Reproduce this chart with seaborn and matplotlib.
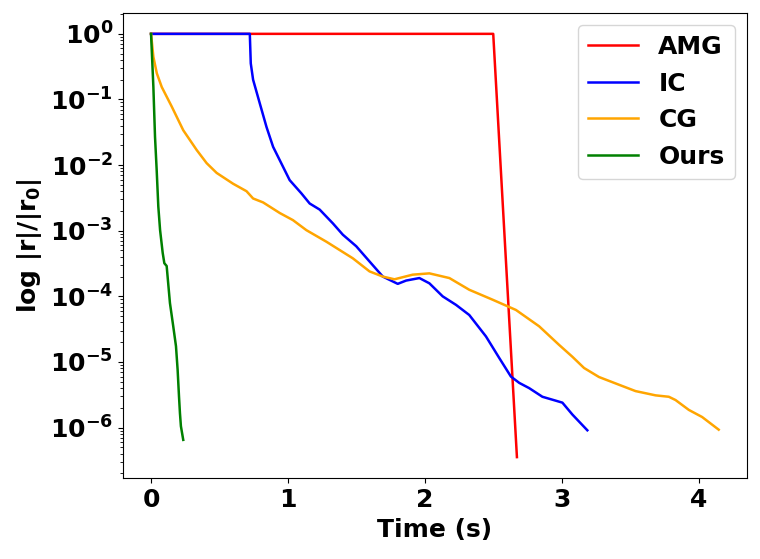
import matplotlib
matplotlib.use("Agg")
import matplotlib.pyplot as plt
import seaborn as sns

# residual curves
amg_t = [0.0, 2.498, 2.671]
amg_r = [1.0, 1.0, 3.55e-7]

ic_t = [0.0, 0.721, 0.728, 0.745, 0.794, 0.843, 0.891, 1.012, 1.098, 1.158,
        1.231, 1.328, 1.400, 1.498, 1.595, 1.692, 1.801, 1.862, 1.959, 2.032,
        2.129, 2.227, 2.323, 2.445, 2.542, 2.627, 2.688, 2.760, 2.857, 2.955,
        3.003, 3.076, 3.185]
ic_r = [1.0, 1.0, 0.355, 0.20, 0.087, 0.038, 0.019, 5.9e-3, 3.7e-3, 2.6e-3,
        2.1e-3, 1.29e-3, 8.7e-4, 5.8e-4, 3.4e-4, 2.0e-4, 1.55e-4, 1.74e-4, 1.9e-4, 1.58e-4,
        1.0e-4, 7.4e-5, 5.2e-5, 2.45e-5, 1.15e-5, 6.0e-6, 4.8e-6, 4.0e-6, 2.95e-6, 2.57e-6,
        2.4e-6, 1.58e-6, 9.1e-7]

cg_t = [0.0, 0.017, 0.042, 0.078, 0.151, 0.235, 0.333, 0.406, 0.479, 0.599,
        0.697, 0.745, 0.818, 0.940, 1.036, 1.134, 1.280, 1.473, 1.595, 1.692,
        1.777, 1.910, 2.032, 2.178, 2.323, 2.493, 2.664, 2.833, 2.979, 3.076,
        3.161, 3.270, 3.416, 3.537, 3.683, 3.780, 3.829, 3.926, 4.023, 4.144]
cg_r = [1.0, 0.447, 0.251, 0.155, 0.078, 0.034, 0.017, 0.0107, 7.6e-3, 5.2e-3,
        4.0e-3, 3.1e-3, 2.7e-3, 1.86e-3, 1.45e-3, 1.02e-3, 6.8e-4, 3.8e-4, 2.4e-4, 2.0e-4,
        1.82e-4, 2.14e-4, 2.24e-4, 1.9e-4, 1.26e-4, 8.9e-5, 6.2e-5, 3.5e-5, 1.82e-5, 1.2e-5,
        8.1e-6, 5.9e-6, 4.5e-6, 3.6e-6, 3.1e-6, 2.95e-6, 2.63e-6, 1.86e-6, 1.45e-6, 9.3e-7]

ours_t = [0.0, 0.017, 0.029, 0.041, 0.053, 0.066, 0.085, 0.097, 0.114, 0.138,
          0.162, 0.182, 0.194, 0.204, 0.211, 0.218, 0.235]
ours_r = [1.0, 0.155, 0.0269, 8.5e-3, 2.34e-3, 1.02e-3, 4.6e-4, 3.2e-4, 2.9e-4, 7.9e-5,
          3.5e-5, 1.74e-5, 7.6e-6, 3.0e-6, 1.66e-6, 1.05e-6, 6.5e-7]

series = [
    ("AMG", amg_t, amg_r, "red"),
    ("IC", ic_t, ic_r, "blue"),
    ("CG", cg_t, cg_r, "orange"),
    ("Ours", ours_t, ours_r, "green"),
]

plt.rcParams["font.weight"] = "bold"
plt.rcParams["axes.labelweight"] = "bold"
plt.rcParams["font.size"] = 18

fig, ax = plt.subplots(figsize=(7.6, 5.59), dpi=100)
fig.subplots_adjust(left=0.1614, right=0.983, top=0.9773, bottom=0.1444)

for name, t, r, c in series:
    sns.lineplot(x=t, y=r, color=c, label=name, linewidth=1.8,
                 estimator=None, sort=False, ax=ax)

ax.set_yscale("log")
ax.set_xlabel("Time (s)", fontsize=18, fontweight="bold")
ax.set_ylabel(r"log |r|/|r$_\mathdefault{0}$|", fontsize=18, fontweight="bold")
ax.tick_params(labelsize=18)
ax.legend(loc="upper right", fontsize=18)

fig.savefig("out.png", dpi=100)
